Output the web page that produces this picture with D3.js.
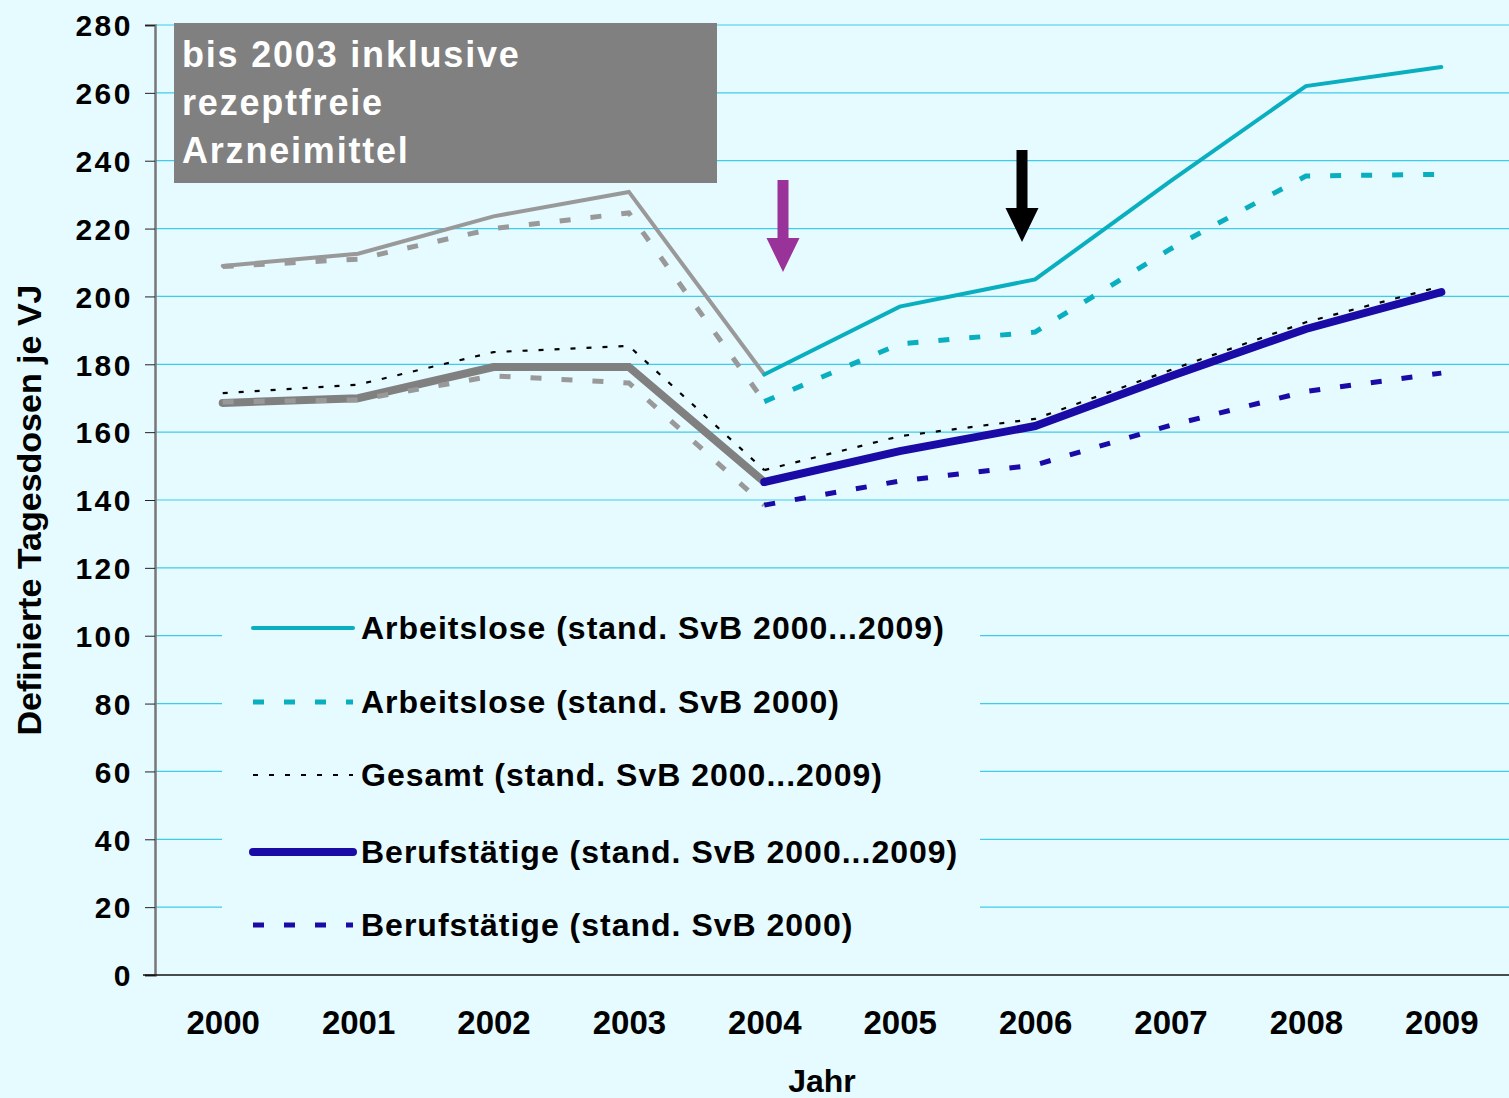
<!DOCTYPE html>
<html>
<head>
<meta charset="utf-8">
<script src="https://cdn.jsdelivr.net/npm/d3@7"></script>
<style>
  body { margin: 0; background: #E6FBFF; }
  svg { display: block; font-family: "Liberation Sans", Arial, sans-serif; }
</style>
</head>
<body>
<script>
//Data
const years = ["2000","2001","2002","2003","2004","2005","2006","2007","2008","2009"];
const yTicks = [0,20,40,60,80,100,120,140,160,180,200,220,240,260,280];

const arbeitsloseAll = [209, 212.6, 223.6, 230.8, 177, 197, 205, 234, 262, 267.6];
const arbeitslose2000 = [208.8, 211, 220, 224.6, 169, 186, 189.5, 214, 235.5, 236];
const gesamtAll = [171.5, 174, 183.6, 185.4, 148.8, 158.8, 163.9, 178.3, 192.4, 203];
const berufAll = [168.6, 170, 179.2, 179.2, 145.3, 154.4, 161.8, 176.5, 190.4, 201.3];
const beruf2000 = [168.9, 169.5, 176.6, 174.5, 138.5, 145.6, 150.3, 162, 172, 177.4];

const legendLabels = [
  "Arbeitslose (stand. SvB 2000...2009)",
  "Arbeitslose (stand. SvB 2000)",
  "Gesamt (stand. SvB 2000...2009)",
  "Berufstätige (stand. SvB 2000...2009)",
  "Berufstätige (stand. SvB 2000)"
];

const noteLines = ["bis 2003 inklusive", "rezeptfreie", "Arzneimittel"];

//Svg creation
const width = 1509;
const height = 1098;
const bg = "#E6FBFF";

const svg = d3.select("body")
  .append("svg")
  .attr("width", width)
  .attr("height", height);

svg.append("rect").attr("width", width).attr("height", height).attr("fill", bg);

const x = d3.scalePoint().domain(years).range([155, 1509]).padding(0.5);
const y = d3.scaleLinear().domain([0, 280]).range([975, 25]);

//Grid + y axis
svg.selectAll(".grid")
  .data(yTicks.filter(d => d > 0))
  .join("line")
  .attr("x1", 155).attr("x2", width)
  .attr("y1", d => y(d)).attr("y2", d => y(d))
  .attr("stroke", "#3FCBEA")
  .attr("stroke-width", 1.2);

const yAxis = svg.append("g")
  .attr("transform", "translate(155,0)")
  .call(d3.axisLeft(y).tickValues(yTicks).tickSize(10).tickPadding(12));
yAxis.select(".domain").attr("stroke", "#777").attr("stroke-width", 2.5);
yAxis.selectAll(".tick line").attr("stroke", "#222");
yAxis.selectAll("text")
  .attr("fill", "#000")
  .attr("dy", "0.36em")
  .style("font-size", "30px")
  .style("font-weight", "bold")
  .style("letter-spacing", "2.5px")
  .style("font-family", "'Liberation Sans', Arial, sans-serif");

//x axis
const xAxis = svg.append("g")
  .attr("transform", "translate(0,975)")
  .call(d3.axisBottom(x).tickSize(0).tickPadding(36));
xAxis.select(".domain").attr("d", "M143,0H" + width).attr("stroke", "#111").attr("stroke-width", 1.5);
xAxis.selectAll("text")
  .attr("fill", "#000")
  .style("font-size", "33px")
  .style("font-weight", "bold")
  .style("font-family", "'Liberation Sans', Arial, sans-serif");

//Axis titles
svg.append("text")
  .attr("x", 822).attr("y", 1092)
  .attr("text-anchor", "middle")
  .style("font-size", "32px").style("font-weight", "bold")
  .text("Jahr");

svg.append("text")
  .attr("transform", "translate(41,510) rotate(-90)")
  .attr("text-anchor", "middle")
  .attr("textLength", 451)
  .attr("lengthAdjust", "spacingAndGlyphs")
  .style("font-size", "33px").style("font-weight", "bold")
  .text("Definierte Tagesdosen je VJ");

//Legend background hides grid
svg.append("rect")
  .attr("x", 222).attr("y", 592).attr("width", 758).attr("height", 360)
  .attr("fill", bg);

//Series
const series = [
  { values: arbeitsloseAll, color: "#0AAFBF", gray: "#999999", w: 4, dash: null },
  { values: arbeitslose2000, color: "#0AAFBF", gray: "#999999", w: 5, dash: "11,20" },
  { values: gesamtAll, color: "#000000", gray: "#000000", w: 2.2, dash: "5,11" },
  { values: berufAll, color: "#1A0AA6", gray: "#808080", w: 8, dash: null },
  { values: beruf2000, color: "#1A0AA6", gray: "#999999", w: 5, dash: "11,20" }
];

const line = d3.line()
  .x(d => x(d.year))
  .y(d => y(d.v));

series.forEach(s => {
  const pts = s.values.map((v, i) => ({ year: years[i], v }));
  const parts = [
    { data: pts.slice(0, 5), color: s.gray },
    { data: pts.slice(4), color: s.color }
  ];
  parts.forEach(p => {
    svg.append("path")
      .attr("d", line(p.data))
      .attr("fill", "none")
      .attr("stroke", p.color)
      .attr("stroke-width", s.w)
      .attr("stroke-linejoin", "miter")
      .attr("stroke-linecap", s.dash ? "butt" : "round")
      .attr("stroke-dasharray", s.dash);
  });
});

//Legend
const leg = svg.append("g");
const legY = [628, 702, 775, 852, 925];
series.forEach((s, i) => {
  leg.append("line")
    .attr("x1", 253).attr("x2", 353)
    .attr("y1", legY[i]).attr("y2", legY[i])
    .attr("stroke", s.color)
    .attr("stroke-width", s.w)
    .attr("stroke-linecap", s.dash ? "butt" : "round")
    .attr("stroke-dasharray", s.dash);
  leg.append("text")
    .attr("x", 361).attr("y", legY[i] + 11)
    .style("font-size", "32px").style("font-weight", "bold")
    .style("letter-spacing", "1px")
    .text(legendLabels[i]);
});

//Annotation box
svg.append("rect")
  .attr("x", 174).attr("y", 23).attr("width", 543).attr("height", 160)
  .attr("fill", "#808080");
svg.append("g").selectAll("text")
  .data(noteLines)
  .join("text")
  .attr("x", 182)
  .attr("y", (d, i) => 67 + i * 48)
  .attr("fill", "#fff")
  .style("font-size", "36px").style("font-weight", "bold")
  .style("letter-spacing", "1.8px")
  .text(d => d);

//Arrows
function arrow(cx, top, headTop, tip, shaftW, headW, color) {
  svg.append("path")
    .attr("d", `M${cx - shaftW / 2},${top}H${cx + shaftW / 2}V${headTop}H${cx + headW / 2}L${cx},${tip}L${cx - headW / 2},${headTop}H${cx - shaftW / 2}Z`)
    .attr("fill", color);
}
arrow(783, 180, 238, 272, 11, 33, "#993399");
arrow(1022, 150, 208, 242, 11, 33, "#000000");
</script>
</body>
</html>
